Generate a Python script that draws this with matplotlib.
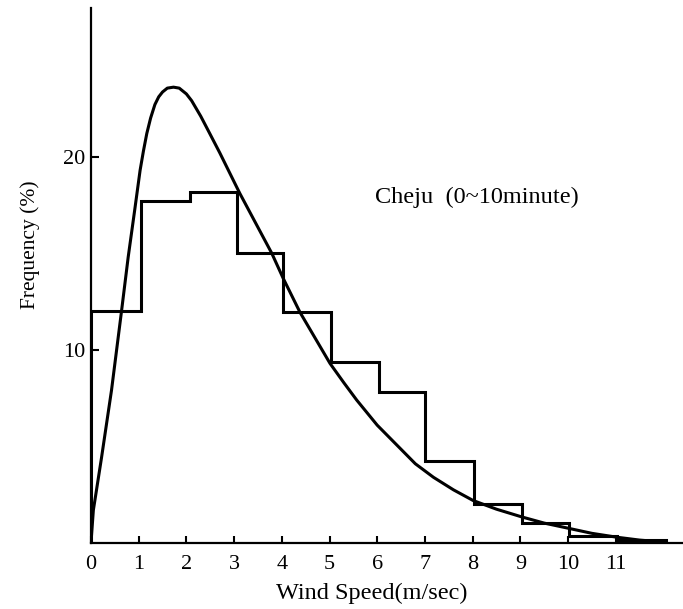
import matplotlib.pyplot as plt

plt.rcParams['font.family'] = ['Liberation Serif', 'DejaVu Serif']

# observed frequency (step histogram), bin edges as drawn
edges = [0, 1.05, 2.08, 3.06, 4.03, 5.04, 6.04, 7.01, 8.02, 9.03, 10.03, 11.02, 12.05]
observed = [12.0, 17.7, 18.15, 15.0, 11.95, 9.35, 7.8, 4.25, 2.0, 1.05, 0.38, 0.15]

# fitted curve, points
curve_x = [0, 0.05, 0.22, 0.43, 0.64, 0.78, 0.92, 1.03, 1.1, 1.17, 1.25, 1.34,
           1.42, 1.5, 1.6, 1.73, 1.85, 2.0, 2.11, 2.3, 2.49, 2.7, 2.88, 3.12,
           3.79, 4.03, 4.38, 5.01, 5.3, 5.57, 6.0, 6.48, 6.8, 7.18, 7.6, 8.01,
           8.5, 9.03, 9.5, 10.03, 10.5, 11.02, 11.5, 12.0]
curve_y = [0, 1.7, 4.4, 7.9, 12.0, 14.8, 17.3, 19.3, 20.3, 21.2, 22.0, 22.7,
           23.1, 23.35, 23.55, 23.6, 23.55, 23.25, 22.9, 22.1, 21.2, 20.2, 19.3, 18.1,
           15.0, 13.7, 11.95, 9.3, 8.3, 7.4, 6.1, 4.9, 4.1, 3.4, 2.75, 2.2,
           1.75, 1.35, 1.03, 0.75, 0.5, 0.3, 0.15, 0.05]

xticks = list(range(12))
yticks = [10, 20]

fig = plt.figure(figsize=(6.83, 6.09), dpi=100)
ax = fig.add_axes([0.1332, 0.1084, 0.8668, 0.8785])

ax.stairs(observed, edges, color='black', linewidth=2.2)
ax.plot(curve_x, curve_y, color='black', linewidth=2.2)

ax.set_xlim(0, 12.41)
ax.set_ylim(0, 27.7)
ax.spines['top'].set_visible(False)
ax.spines['right'].set_visible(False)
ax.spines['left'].set_linewidth(1.6)
ax.spines['bottom'].set_linewidth(1.6)

ax.set_xticks(xticks)
ax.set_yticks(yticks)
ax.tick_params(axis='x', direction='in', length=5, width=1.5, pad=9, labelsize=16)
ax.tick_params(axis='y', direction='in', length=6, width=1.5, pad=4, labelsize=16)

ax.set_xlabel('Wind Speed(m/sec)', fontsize=17.5, va='center')
ax.xaxis.set_label_coords(0.475, -0.095)
ax.set_ylabel('Frequency (%)', fontsize=15.5, va='center')
ax.yaxis.set_label_coords(-0.103, 0.557)

ax.text(8.09, 17.9, 'Cheju  (0~10minute)', fontsize=17.5, ha='center', va='center')

fig.savefig('out.png', dpi=100)
